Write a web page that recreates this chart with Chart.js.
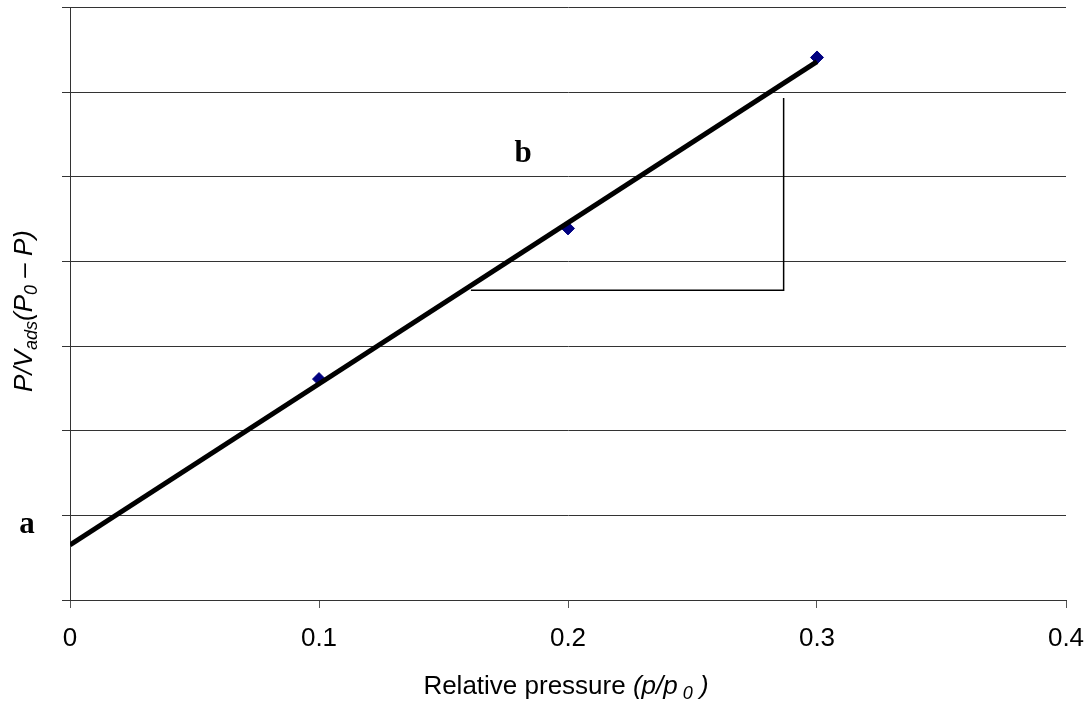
<!DOCTYPE html>
<html>
<head>
<meta charset="utf-8">
<script src="https://cdn.jsdelivr.net/npm/chart.js@4/dist/chart.umd.min.js"></script>
<style>
  html, body { margin: 0; padding: 0; background: #fff; }
  #wrap { width: 1089px; height: 705px; position: relative; }
</style>
</head>
<body>
<div id="wrap"><canvas id="bet"></canvas></div>
<script>
// measured points (relative pressure, BET value)
const relPressure = [0.1, 0.2, 0.3];
const betValues = [2.61, 4.39, 6.41];

// fitted straight line, from p/p0 = 0 to 0.3
const fitX = [0, 0.3];
const fitY = [0.65, 6.36];

// slope triangle drawn under the line
const slopeX = [0.161, 0.2866, 0.2866];
const slopeY = [3.66, 3.66, 5.93];

// annotation letters: intercept "a", slope "b"
const noteText = ["a", "b"];
const noteX = [-0.0173, 0.182];
const noteY = [0.79, 5.17];

const xTicks = [0, 0.1, 0.2, 0.3, 0.4];

const FONT = "'Liberation Sans', Arial, sans-serif";
const SERIF = "'Liberation Serif', 'Times New Roman', serif";

function toPoints(xs, ys) {
    return xs.map((x, i) => ({ x: x, y: ys[i] }));
}

// draws a run of text pieces, some lowered as subscripts, centred on (0,0)
function drawPieces(ctx, pieces) {
    let total = 0;
    pieces.forEach(p => { ctx.font = p.font; p.w = ctx.measureText(p.t).width; total += p.w; });
    let x = -total / 2;
    pieces.forEach(p => {
        ctx.font = p.font;
        ctx.fillText(p.t, x, p.dy || 0);
        x += p.w;
    });
}

const titlesPlugin = {
    id: "titles",
    afterDraw(chart) {
        const ctx = chart.ctx;
        const xs = chart.scales.x, ys = chart.scales.y;
        ctx.save();
        ctx.fillStyle = "#000";
        ctx.textAlign = "left";
        ctx.textBaseline = "alphabetic";

        // x axis title
        ctx.save();
        ctx.translate(566, 694);
        drawPieces(ctx, [
            { t: "Relative pressure ", font: "26px " + FONT },
            { t: "(p/p", font: "italic 26px " + FONT },
            { t: " 0", font: "italic 18px " + FONT, dy: 5 },
            { t: " )", font: "italic 26px " + FONT }
        ]);
        ctx.restore();

        // y axis title, rotated
        ctx.save();
        ctx.translate(32, 311);
        ctx.rotate(-Math.PI / 2);
        drawPieces(ctx, [
            { t: "P/V", font: "italic 26px " + FONT },
            { t: "ads", font: "italic 18px " + FONT, dy: 5 },
            { t: "(P", font: "italic 26px " + FONT },
            { t: "0", font: "italic 18px " + FONT, dy: 5 },
            { t: " \u2013 P)", font: "italic 26px " + FONT }
        ]);
        ctx.restore();

        // letters a and b
        ctx.font = "bold 31px " + SERIF;
        ctx.textAlign = "center";
        noteText.forEach((t, i) => {
            ctx.fillText(t, xs.getPixelForValue(noteX[i]), ys.getPixelForValue(noteY[i]));
        });
        ctx.restore();
    }
};

new Chart(document.getElementById("bet"), {
    type: "scatter",
    data: {
        datasets: [
            {
                label: "fit",
                type: "line",
                data: toPoints(fitX, fitY),
                borderColor: "#000",
                borderWidth: 5,
                pointRadius: 0,
                fill: false,
                order: 1
            },
            {
                label: "slope",
                type: "line",
                data: toPoints(slopeX, slopeY),
                borderColor: "#000",
                borderWidth: 1.5,
                pointRadius: 0,
                fill: false,
                order: 2
            },
            {
                label: "measured",
                data: toPoints(relPressure, betValues),
                pointStyle: "rectRot",
                pointRadius: 6.5,
                backgroundColor: "#000080",
                borderColor: "#000080",
                borderWidth: 1,
                order: 3
            }
        ]
    },
    options: {
        responsive: true,
        maintainAspectRatio: false,
        animation: false,
        layout: { padding: { top: 7, right: 23, left: 0, bottom: 0 } },
        plugins: {
            legend: { display: false },
            tooltip: { enabled: false }
        },
        scales: {
            x: {
                type: "linear",
                min: 0,
                max: 0.4,
                afterBuildTicks(scale) {
                    scale.ticks = xTicks.map(v => ({ value: v }));
                },
                afterFit(scale) {
                    scale.height = 105;
                    scale.paddingLeft = 0;
                    scale.paddingRight = 0;
                },
                border: { color: "#333", width: 1 },
                grid: {
                    drawOnChartArea: false,
                    drawTicks: true,
                    tickLength: 8,
                    color: "#555"
                },
                ticks: {
                    color: "#000",
                    padding: 15,
                    font: { family: FONT, size: 26 },
                    callback: v => String(v)
                }
            },
            y: {
                min: 0,
                max: 7,
                afterFit(scale) {
                    scale.width = 70;
                    scale.paddingTop = 0;
                    scale.paddingBottom = 0;
                },
                border: { color: "#333", width: 1 },
                grid: {
                    color: "#333",
                    lineWidth: 1,
                    drawTicks: true,
                    tickLength: 8
                },
                ticks: {
                    stepSize: 1,
                    display: true,
                    callback: () => ""
                }
            }
        }
    },
    plugins: [titlesPlugin]
});
</script>
</body>
</html>
